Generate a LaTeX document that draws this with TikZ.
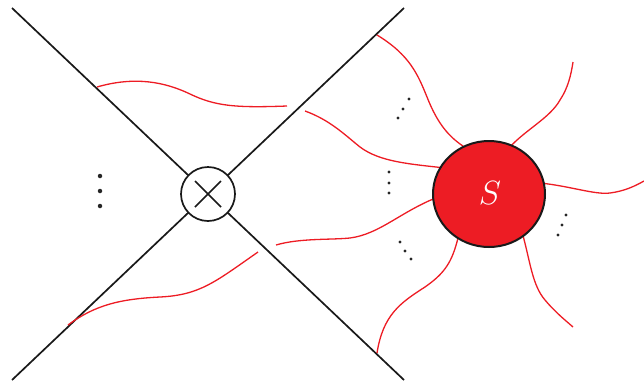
\documentclass[tikz,border=0pt]{standalone}
\usetikzlibrary{shapes.geometric,calc}
\definecolor{sred}{HTML}{ED1C24}
\tikzset{
  blk/.style={line width=1.7pt, black!90},
  leg/.style={line width=1.3pt, sred},
  bigdot/.style={circle, fill=black!85, inner sep=0pt, minimum size=4.5pt},
  smdot/.style={circle, fill=black!85, inner sep=0pt, minimum size=3.2pt},
}
\begin{document}
\begin{tikzpicture}[x=1pt,y=-1pt]
\useasboundingbox (0,0) rectangle (644,381);
% corners of the two lines
\coordinate (tl) at (12,8);
\coordinate (br) at (404,380);
\coordinate (bl) at (12,380);
\coordinate (tr) at (404,8);
\draw[blk] (tl) -- (br);
\draw[blk] (bl) -- (tr);
% red legs
\draw[leg] (97,87) .. controls (135,76) and (165,82) .. (190,94) .. controls (215,106) and (235,108) .. (287,106);
\draw[leg] (305,111) .. controls (330,120) and (345,135) .. (360,147) .. controls (380,162) and (410,164) .. (445,168);
\draw[leg] (276,245) .. controls (300,238) and (330,240) .. (350,238) .. controls (380,234) and (400,212) .. (438,197);
\draw[leg] (68,325) .. controls (95,305) and (120,299) .. (160,297) .. controls (200,295) and (215,282) .. (258,252);
\draw[leg] (377,35) .. controls (410,55) and (418,75) .. (427,97) .. controls (438,125) and (450,138) .. (466,148);
\draw[leg] (377,353) .. controls (383,315) and (400,303) .. (425,287) .. controls (445,273) and (452,262) .. (458,238);
\draw[leg] (509,148) .. controls (525,130) and (550,118) .. (560,100) .. controls (568,88) and (571,75) .. (573,62);
\draw[leg] (540,183) .. controls (570,186) and (595,195) .. (610,193) .. controls (625,191) and (635,186) .. (644,181);
\draw[leg] (522,232) .. controls (530,260) and (532,285) .. (545,300) .. controls (555,312) and (565,320) .. (573,327);
% vertex with cross
\node[circle, draw=black!90, line width=1.7pt, fill=white, minimum size=54pt, inner sep=0pt] (v) at (208,194) {};
\draw[blk] ($(v.center)+(-13,-13)$) -- ($(v.center)+(13,13)$);
\draw[blk] ($(v.center)+(-13,13)$) -- ($(v.center)+(13,-13)$);
% blob S
\node[ellipse, draw=black!90, line width=2pt, fill=sred, minimum width=112pt, minimum height=106pt, inner sep=0pt] (S) at (489,194) {};
\node[text=white, font=\Huge, scale=1.35, inner sep=0pt] (Slab) at (490,193) {$S$};
% dots
\node[bigdot] (d1) at (100,176) {};
\node[bigdot] (d2) at (100,191) {};
\node[bigdot] (d3) at (100,206) {};
\node[smdot] (e1) at (389,172) {};
\node[smdot] (e2) at (389,183) {};
\node[smdot] (e3) at (389,193) {};
\node[smdot] (f1) at (398,118) {};
\node[smdot] (f2) at (403,109) {};
\node[smdot] (f3) at (409,99) {};
\node[smdot] (g1) at (400,242) {};
\node[smdot] (g2) at (405,251) {};
\node[smdot] (g3) at (411,259) {};
\node[smdot] (h1) at (566,215) {};
\node[smdot] (h2) at (562,225) {};
\node[smdot] (h3) at (558,235) {};
\end{tikzpicture}
\end{document}
